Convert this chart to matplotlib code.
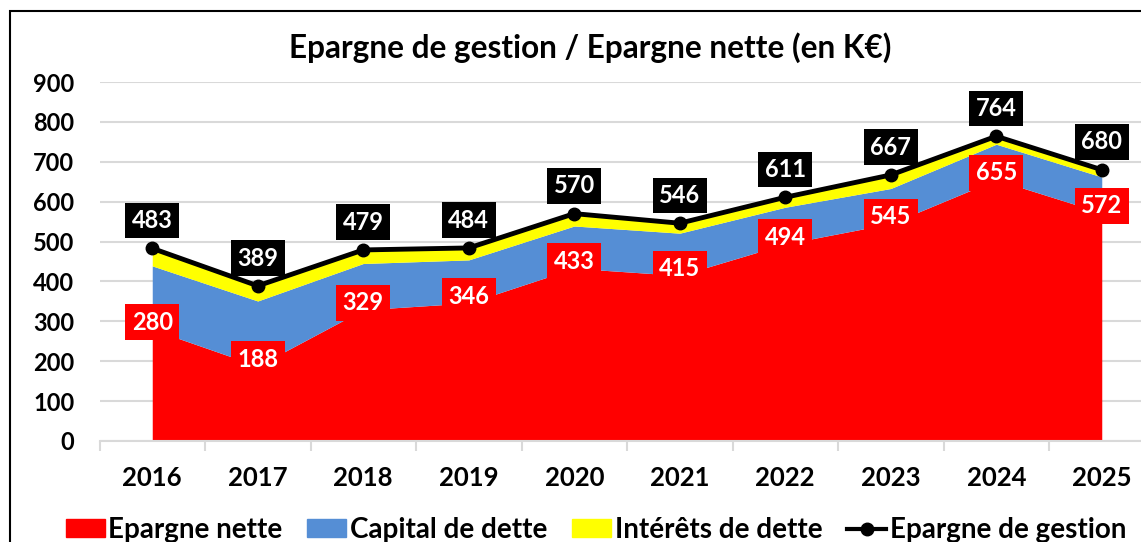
import numpy as np
import matplotlib.pyplot as plt
from matplotlib.patches import Rectangle
from matplotlib.lines import Line2D
from matplotlib.patches import Patch

plt.rcParams['font.family'] = ['Lato', 'DejaVu Sans']
plt.rcParams['font.weight'] = 'bold'

annees = ['2016', '2017', '2018', '2019', '2020', '2021', '2022', '2023', '2024', '2025']
epargne_nette = [280, 188, 329, 346, 433, 415, 494, 545, 655, 572]
capital_dette = [159, 163, 116, 108, 106, 106, 92, 88, 89, 90]
interets_dette = [44, 38, 34, 30, 31, 25, 25, 34, 20, 18]
epargne_gestion = [483, 389, 479, 484, 570, 546, 611, 667, 764, 680]

W, H = 1141, 542
fig = plt.figure(figsize=(W / 100, H / 100), dpi=100)

# cadre du graphique (coupe a droite et en bas)
fig.patches.append(Rectangle((10 / W, -0.2), 1.2, 1.2 - 11 / H, transform=fig.transFigure,
                             fill=False, edgecolor='black', linewidth=1.5, zorder=10))

ax = fig.add_axes([99.5 / W, 1 - 441 / H, 1055 / W, (441 - 82) / H])
x = np.arange(len(annees))
nette = np.array(epargne_nette)
brute = nette + np.array(capital_dette)
total = brute + np.array(interets_dette)

ax.fill_between(x, 0, nette, color='#ff0000', lw=0, zorder=2)
ax.fill_between(x, nette, brute, color='#558ed5', lw=0, zorder=2)
ax.fill_between(x, brute, total, color='#ffff00', lw=0, zorder=2)
ax.plot(x, epargne_gestion, color='black', lw=3.5, marker='o', markersize=9, zorder=4)

for xi, v in zip(x, epargne_nette):
    ax.annotate(str(v), (xi, v), xytext=(0, 5), textcoords='offset points', ha='center', va='center',
                color='white', fontsize=17, fontweight='bold', zorder=5,
                bbox=dict(boxstyle='square,pad=0.27', fc='#ff0000', ec='none'))
for xi, v in zip(x, epargne_gestion):
    ax.annotate(str(v), (xi, v), xytext=(0, 20), textcoords='offset points', ha='center', va='center',
                color='white', fontsize=17, fontweight='bold', zorder=5,
                bbox=dict(boxstyle='square,pad=0.27', fc='black', ec='none'))

ax.set_xlim(-0.5, 9.5)
ax.set_ylim(0, 900)
ax.set_yticks(range(0, 1000, 100))
ax.tick_params(axis='y', length=0, pad=18, labelsize=17)
ax.grid(axis='y', color='#d9d9d9', lw=1.5, zorder=0)
ax.set_axisbelow(True)

ax.set_xticks(np.arange(-0.5, 10, 1))
ax.set_xticklabels([])
ax.set_xticks(x, minor=True)
ax.set_xticklabels(annees, minor=True, fontsize=18.5)
ax.tick_params(axis='x', which='major', length=7, width=1.5, color='#d9d9d9')
ax.tick_params(axis='x', which='minor', length=0, pad=18)

for s in ['top', 'right', 'left']:
    ax.spines[s].set_visible(False)
ax.spines['bottom'].set_color('#d9d9d9')
ax.spines['bottom'].set_linewidth(1.5)

fig.text(590 / W, 1 - 48 / H, 'Epargne de gestion / Epargne nette (en K€)', ha='center', va='center',
         fontsize=22.7, fontweight='bold')

handles = [Patch(color='#ff0000'), Patch(color='#558ed5'), Patch(color='#ffff00'),
           Line2D([], [], color='black', lw=3, marker='o', markersize=9)]
labels = ['Epargne nette', 'Capital de dette', 'Intérêts de dette', 'Epargne de gestion']
fig.legend(handles, labels, loc='center', bbox_to_anchor=(596 / W, 1 - 530 / H), ncol=4, frameon=False,
           fontsize=20, handlelength=1.4, handleheight=0.6, handletextpad=0.13, columnspacing=0.9,
           borderpad=0)

fig.savefig('out.png', dpi=100)
